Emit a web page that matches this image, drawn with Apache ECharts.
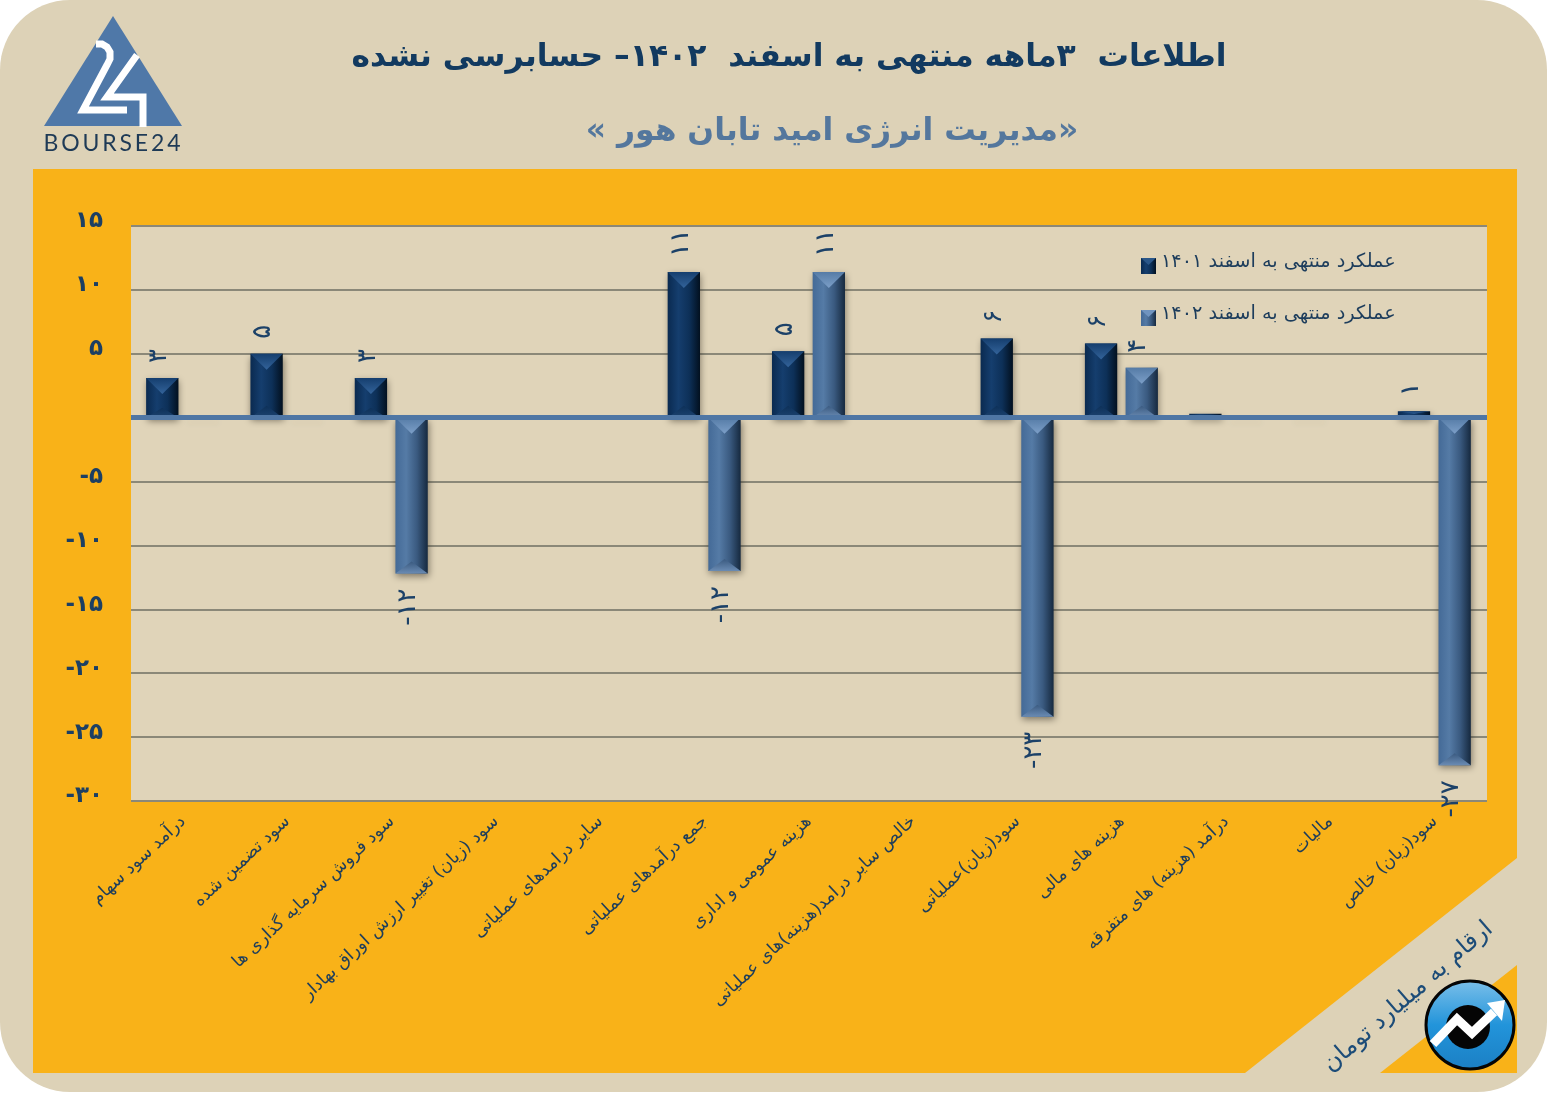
<!DOCTYPE html>
<html lang="fa">
<head>
<meta charset="utf-8">
<title>مدیریت انرژی امید تابان هور</title>
<script src="https://cdn.jsdelivr.net/npm/echarts@6/dist/echarts.min.js"></script>
<style>
  html, body { margin: 0; padding: 0; background: #fff; }
  #chart { width: 1547px; height: 1102px; }
</style>
</head>
<body>
<div id="chart"></div>
<script>
const categories = [
  "درآمد سود سهام",
  "سود تضمین شده",
  "سود فروش سرمایه گذاری ها",
  "سود (زیان) تغییر ارزش اوراق بهادار",
  "سایر درامدهای عملیاتی",
  "جمع درآمدهای عملیاتی",
  "هزینه عمومی و اداری",
  "خالص سایر درامد(هزینه)های عملیاتی",
  "سود(زیان)عملیاتی",
  "هزینه های مالی",
  "درآمد (هزینه) های متفرقه",
  "مالیات",
  "سود(زیان) خالص"
];
const values1401 = [3.1, 5, 3.1, null, null, 11.4, 5.2, null, 6.2, 5.8, 0.3, 0, 0.5];
const values1402 = [0, 0, -12.2, null, null, -12, 11.4, null, -23.4, 3.9, 0, null, -27.2];
const seriesNames = ["عملکرد منتهی به اسفند ۱۴۰۱", "عملکرد منتهی به اسفند ۱۴۰۲"];
const titleText = "اطلاعات  ۳ماهه منتهی به اسفند  ۱۴۰۲– حسابرسی نشده";
const subtitleText = "\u200f«مدیریت انرژی امید تابان هور »\u200f";

const FONT = '"DejaVu Sans", sans-serif';
const DARK = "#1d3d5c";

function faDigits(n) {
  return String(n).replace(/\d/g, d => "۰۱۲۳۴۵۶۷۸۹"[d]);
}

const grad = (stops, x2 = 1, y2 = 0) => new echarts.graphic.LinearGradient(0, 0, x2, y2,
  stops.map((c, i) => ({ offset: i / (stops.length - 1), color: c })));

const paletteA = {
  body: ["#0a2a50", "#153e6e", "#0d3058", "#02101f"],
  cap: "#33639a",
  foot: "#1c4370"
};
const paletteB = {
  body: ["#446a97", "#557ba6", "#3a5a80", "#16293f"],
  cap: "#7c9fc8",
  foot: "#6a8bb3"
};

// 3D looking bar, everything comes from api.coord / api.size
function bevelBar(offset, pal) {
  return function (params, api) {
    const val = api.value(1);
    if (isNaN(val)) return;
    const idx = api.value(0);
    const band = api.size([1, 0])[0];
    const base = api.coord([idx, 0]);
    const end = api.coord([idx, val]);
    const cx = base[0] + offset * band;
    const w = band * 0.31;
    const x0 = cx - w / 2, x1 = cx + w / 2;
    const top = Math.min(base[1], end[1]);
    const bot = Math.max(base[1], end[1]);
    const h = bot - top;

    if (h < 1) {
      // zero bars only leave a faint shadow under the axis
      return {
        type: "rect",
        shape: { x: x0, y: base[1], width: w, height: 1 },
        style: { fill: "rgba(120,105,80,0.35)", shadowBlur: 6, shadowOffsetY: 4, shadowColor: "rgba(70,60,40,0.55)" }
      };
    }

    const children = [{
      type: "rect",
      shape: { x: x0, y: top, width: w, height: h },
      style: { fill: grad(pal.body), shadowBlur: 7, shadowOffsetX: 1, shadowOffsetY: 3, shadowColor: "rgba(30,25,15,0.5)" }
    }];
    if (h > 6) {
      const tip = Math.min(16, h * 0.4);
      children.push({
        type: "polygon",
        shape: { points: [[x0, top], [x1, top], [cx, top + tip]] },
        style: { fill: grad([pal.body[1], pal.cap], 0, 1) }
      });
      children.push({
        type: "polygon",
        shape: { points: [[x0, bot], [x1, bot], [cx, bot - Math.min(12, h * 0.25)]] },
        style: { fill: grad([pal.body[2], pal.foot], 0, 1) }
      });
    }

    const rounded = Math.round(Math.abs(val));
    if (rounded > 0 && Math.abs(val) >= 0.5) {
      children.push({
        type: "text",
        x: cx - 3,
        y: val > 0 ? top - 15 : bot + 15,
        rotation: Math.PI / 2,
        style: {
          text: (val < 0 ? "-" : "") + faDigits(rounded),
          fill: "#1c4168",
          font: "26px " + FONT,
          align: val > 0 ? "left" : "right",
          verticalAlign: "middle"
        }
      });
    }
    return { type: "group", children };
  };
}

const decor = [
  // page card and orange panel
  { type: "rect", z: -10, shape: { x: 0, y: 0, width: 1547, height: 1092, r: 70 }, style: { fill: "#ddd2b7" } },
  { type: "polygon", z: -9, shape: { points: [[33, 169], [1517, 169], [1517, 858], [1245, 1073], [33, 1073]] }, style: { fill: "#f9b218" } },
  { type: "polygon", z: -9, shape: { points: [[1380, 1073], [1517, 965], [1517, 1073]] }, style: { fill: "#f9b218" } },
  // bourse24 logo
  { type: "polygon", z: 1, shape: { points: [[44, 126], [113, 16], [182, 126]] }, style: { fill: "#4f78a8" } },
  { type: "polyline", z: 2, shape: { points: [[96, 44], [102, 44], [107, 47], [110, 52], [110, 59], [107, 65], [83, 110], [127, 110]] }, style: { fill: "none", stroke: "#fff", lineWidth: 7 } },
  { type: "polyline", z: 2, shape: { points: [[137, 55], [107, 97], [143, 97], [143, 127]] }, style: { fill: "none", stroke: "#fff", lineWidth: 7 } },
  { type: "text", z: 2, x: 112, y: 144, style: { text: "B\u2009O\u2009U\u2009R\u2009S\u2009E\u20092\u20094", font: '23px Lato, sans-serif', fill: "#1e3a56", align: "center", verticalAlign: "middle" } },
  // unit note
  { type: "text", z: 2, x: 1408, y: 997, rotation: 0.715, style: { text: "ارقام به میلیارد تومان", font: "24px " + FONT, fill: "#1c4c78", align: "center", verticalAlign: "middle" } },
  // round badge
  { type: "circle", z: 3, shape: { cx: 1470, cy: 1025, r: 44 }, style: { fill: grad(["#7cc0ea", "#2294da", "#1b7fc4"], 0, 1), stroke: "#050505", lineWidth: 3 } },
  { type: "circle", z: 3, shape: { cx: 1468, cy: 1027, r: 22 }, style: { fill: "#050505" } },
  { type: "polyline", z: 4, shape: { points: [[1433, 1044], [1457, 1019], [1472, 1033], [1494, 1012]] }, style: { fill: "none", stroke: "#fff", lineWidth: 9 } },
  { type: "polygon", z: 4, shape: { points: [[1505, 1000], [1487, 1003], [1502, 1021]] }, style: { fill: "#fff" } },
  // bevel hint on the legend keys
  { type: "polygon", z: 20, shape: { points: [[1141, 258], [1156, 258], [1148.5, 265]] }, style: { fill: "#2b5789" } },
  { type: "polygon", z: 20, shape: { points: [[1141, 310], [1156, 310], [1148.5, 317]] }, style: { fill: "#7094bf" } }
];

const chart = echarts.init(document.getElementById("chart"), null, { renderer: "canvas" });
chart.setOption({
  animation: false,
  backgroundColor: "#fff",
  title: [
    { text: titleText, left: 784, top: 37, textAlign: "center",
      textStyle: { fontFamily: FONT, fontSize: 31.4, fontWeight: "bold", color: "#123a60" } },
    { text: subtitleText, left: 827, top: 111, textAlign: "center",
      textStyle: { fontFamily: FONT, fontSize: 31.4, fontWeight: "bold", color: "#54779d" } }
  ],
  legend: {
    orient: "vertical",
    left: 1136,
    top: 247,
    itemWidth: 15,
    itemHeight: 16,
    itemGap: 30,
    icon: "rect",
    formatter: "{t|{name}}",
    textStyle: {
      fontFamily: FONT,
      fontSize: 19.3,
      color: DARK,
      rich: { t: { fontFamily: FONT, fontSize: 19.3, color: DARK, padding: [0, 0, 9, 0] } }
    },
    data: seriesNames
  },
  grid: { left: 131, right: 60, top: 226, bottom: 301, show: true, backgroundColor: "#e0d4b9", borderWidth: 0 },
  xAxis: [
    {
      type: "category",
      data: categories,
      position: "bottom",
      axisLine: { show: false, onZero: false },
      axisTick: { show: false },
      axisLabel: {
        interval: 0,
        rotate: 43,
        margin: 18,
        fontFamily: FONT,
        fontSize: 17.5,
        color: DARK
      }
    },
    {
      // thick blue zero line
      type: "category",
      data: categories,
      position: "bottom",
      z: 5,
      axisLine: { onZero: true, lineStyle: { color: "#4f76a4", width: 5, cap: "butt" } },
      axisTick: { show: false },
      axisLabel: { show: false }
    }
  ],
  yAxis: {
    type: "value",
    min: -30,
    max: 15,
    interval: 5,
    axisLine: { show: false },
    axisTick: { show: false },
    splitLine: { lineStyle: { color: "#8b8878", width: 2 } },
    axisLabel: {
      margin: 28,
      fontFamily: FONT,
      fontSize: 23,
      fontWeight: "bold",
      color: "#1c3f63",
      verticalAlign: "bottom",
      lineHeight: 9,
      formatter: v => v === 0 ? "" : (v < 0 ? "-" : "") + faDigits(Math.abs(v))
    }
  },
  series: [
    {
      name: seriesNames[0],
      type: "custom",
      clip: false,
      z: 3,
      itemStyle: { color: grad(paletteA.body) },
      encode: { x: 0, y: 1 },
      renderItem: bevelBar(-0.2, paletteA),
      data: values1401.map((v, i) => [i, v])
    },
    {
      name: seriesNames[1],
      type: "custom",
      clip: false,
      z: 3,
      itemStyle: { color: grad(paletteB.body) },
      encode: { x: 0, y: 1 },
      renderItem: bevelBar(0.19, paletteB),
      data: values1402.map((v, i) => [i, v])
    }
  ],
  graphic: { elements: decor }
});
</script>
</body>
</html>
